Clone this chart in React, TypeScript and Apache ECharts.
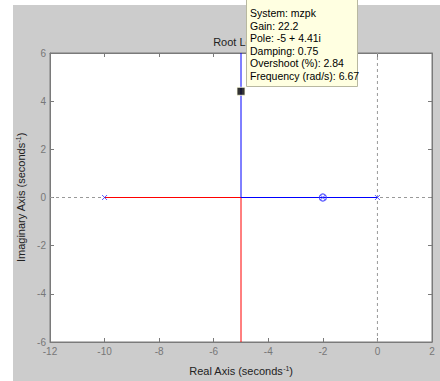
import React, { useEffect, useRef } from "react";
import * as echarts from "echarts";

const xTicks = { min: -12, max: 2, interval: 2 };
const yTicks = { min: -6, max: 6, interval: 2 };
const blueBranch: [number, number][] = [[0, 0], [-5, 0], [-5, 6]];
const redBranch: [number, number][] = [[-10, 0], [-5, 0], [-5, -6]];
const poles: [number, number][] = [[-10, 0], [-2, 0], [0, 0]];
const zeros: [number, number][] = [[-2, 0]];
const selectedPole: [number, number] = [-5, 4.41];
const realLine: [number, number][] = [[-12, 0], [2, 0]];
const imagLine: [number, number][] = [[0, -6], [0, 6]];
const tipLines = [
  "System: mzpk",
  "Gain: 22.2",
  "Pole: -5 + 4.41i",
  "Damping: 0.75",
  "Overshoot (%): 2.84",
  "Frequency (rad/s): 6.67",
];
const titleText = "Root Locus";

const FONT = "'Liberation Sans', Arial, sans-serif";
const CROSS = "path://M0,0L10,10M10,0L0,10";

export default function App() {
  const ref = useRef<HTMLDivElement>(null);
  useEffect(() => {
    const chart = echarts.init(ref.current!, undefined, { renderer: "svg" });
    const axisCommon = {
      axisLine: { show: true, onZero: false, lineStyle: { color: "#7a7a7a", width: 1 } },
      axisTick: { show: true, inside: true, length: 4, lineStyle: { color: "#7a7a7a" } },
      splitLine: { show: false },
    };
    chart.setOption({
      animation: false,
      backgroundColor: "transparent",
      grid: { left: 50, top: 53, right: 8, bottom: 33, show: true, backgroundColor: "#ffffff", borderColor: "#7a7a7a", borderWidth: 1 },
      xAxis: [
        {
          type: "value", ...xTicks, ...axisCommon,
          axisLabel: { color: "#777", fontSize: 10, fontFamily: FONT, margin: 4 },
          name: "Real Axis (seconds{s|-1})",
          nameLocation: "middle", nameGap: 23,
          nameTextStyle: { color: "#222", fontSize: 11, fontFamily: FONT, rich: { s: { fontSize: 7, verticalAlign: "top", color: "#222", fontFamily: FONT } } },
        },
        { type: "value", position: "top", ...xTicks, ...axisCommon, axisLabel: { show: false } },
      ],
      yAxis: [
        {
          type: "value", ...yTicks, ...axisCommon,
          axisLabel: { color: "#777", fontSize: 10, fontFamily: FONT, margin: 4 },
          name: "Imaginary Axis (seconds{s|-1})",
          nameLocation: "middle", nameGap: 18, nameRotate: 90,
          nameTextStyle: { color: "#222", fontSize: 11, fontFamily: FONT, rich: { s: { fontSize: 7, verticalAlign: "top", color: "#222", fontFamily: FONT } } },
        },
        { type: "value", position: "right", ...yTicks, ...axisCommon, axisLabel: { show: false } },
      ],
      series: [
        { type: "line", data: realLine, symbol: "none", lineStyle: { color: "#999", width: 1, type: [3, 3] }, z: 1 },
        { type: "line", data: imagLine, symbol: "none", lineStyle: { color: "#999", width: 1, type: [3, 3] }, z: 1 },
        { type: "line", data: redBranch, symbol: "none", lineStyle: { color: "#ff0000", width: 1 }, z: 2 },
        { type: "line", data: blueBranch, symbol: "none", lineStyle: { color: "#0000ff", width: 1 }, z: 2 },
        { type: "scatter", data: poles, symbol: CROSS, symbolSize: 5, itemStyle: { color: "none", borderColor: "#3333ff", borderWidth: 1 }, z: 4 },
        { type: "scatter", data: zeros, symbol: "circle", symbolSize: 7, itemStyle: { color: "none", borderColor: "#3333ff", borderWidth: 1.2 }, z: 4 },
        { type: "scatter", data: [selectedPole], symbol: "rect", symbolSize: 8, itemStyle: { color: "#000", borderColor: "#ffffe1", borderWidth: 1 }, z: 5 },
      ],
      graphic: [
        { type: "rect", shape: { x: 13, y: 5, width: 427, height: 376 }, style: { fill: "#cccccc" }, z: -10, silent: true },
        { type: "text", x: 241, y: 42, style: { text: titleText, fill: "#222", font: `11px ${FONT}`, textAlign: "center", textVerticalAlign: "middle" }, z: 10 },
        { type: "rect", shape: { x: 246.5, y: -1, width: 111, height: 87.5 }, style: { fill: "#ffffe1", stroke: "#b8b8a0", lineWidth: 1 }, z: 20 },
        ...tipLines.map((t, i) => ({
          type: "text", x: 250, y: 13 + i * 12.6,
          style: { text: t, fill: "#000", font: `10.5px ${FONT}`, textVerticalAlign: "middle" }, z: 21,
        })),
      ],
    });
    return () => chart.dispose();
  }, []);
  return <div ref={ref} style={{ position: "fixed", left: 0, top: 0, width: 440, height: 381, background: "#fff" }} />;
}
